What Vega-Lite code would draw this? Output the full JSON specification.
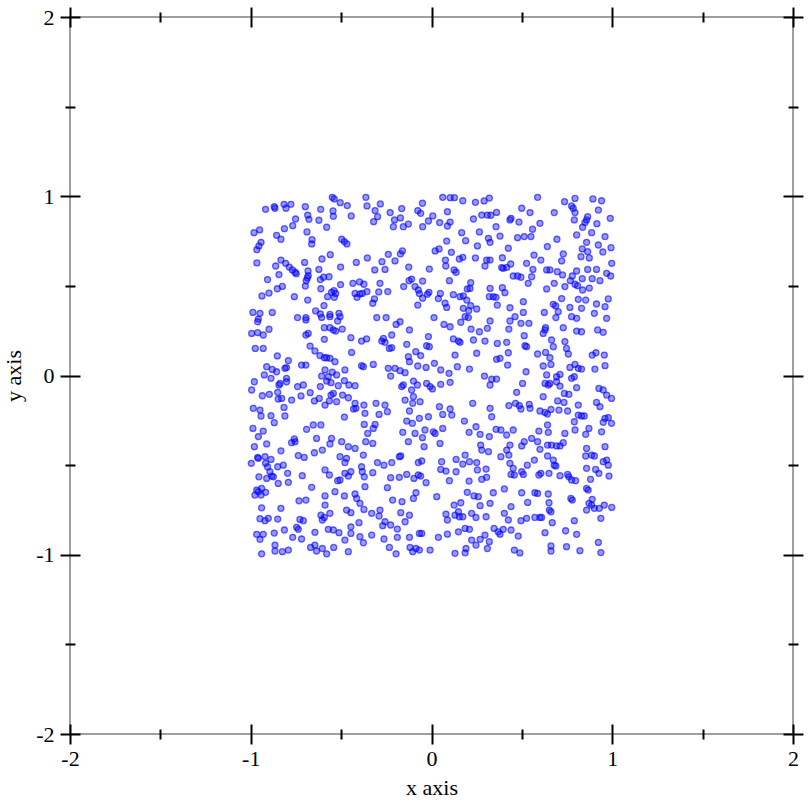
{
"$schema": "https://vega.github.io/schema/vega-lite/v6.json",
"width": 723, "height": 717,
"autosize": {"type": "none"},
"padding": {"left": 70, "top": 17, "right": 19, "bottom": 78},
"background": "white",
"config": {
 "view": {"stroke": "#808080", "strokeWidth": 1.5},
 "axis": {"grid": false, "domain": false, "labelFont": "Liberation Serif", "titleFont": "Liberation Serif", "labelFontSize": 22, "titleFontSize": 22, "titleFontWeight": "normal", "labelColor": "black", "titleColor": "black", "tickColor": "black", "tickWidth": 2, "labelFlush": false, "labelOverlap": false, "labelBound": false}
},
"resolve": {"axis": {"x": "independent", "y": "independent"}},
"layer": [
 {
  "data": {"values": [
{"x":-0.549,"y":0.994},{"x":-0.538,"y":0.985},{"x":-0.363,"y":0.994},{"x":-0.505,"y":0.964},{"x":-0.466,"y":0.948},{"x":-0.357,"y":0.946},{"x":-0.918,"y":0.927},{"x":-0.870,"y":0.942},{"x":-0.866,"y":0.933},{"x":-0.816,"y":0.955},{"x":-0.778,"y":0.955},{"x":-0.805,"y":0.933},{"x":-0.698,"y":0.942},{"x":-0.613,"y":0.927},{"x":-0.545,"y":0.918},{"x":-0.685,"y":0.895},{"x":-0.678,"y":0.871},{"x":-0.752,"y":0.873},{"x":-0.623,"y":0.866},{"x":-0.543,"y":0.888},{"x":-0.444,"y":0.890},{"x":-0.768,"y":0.836},{"x":-0.814,"y":0.819},{"x":-0.580,"y":0.827},{"x":-0.951,"y":0.812},{"x":-0.982,"y":0.797},{"x":-0.689,"y":0.801},{"x":-0.857,"y":0.782},{"x":-0.833,"y":0.760},{"x":-0.661,"y":0.758},{"x":-0.663,"y":0.734},{"x":-0.497,"y":0.760},{"x":-0.482,"y":0.747},{"x":-0.468,"y":0.734},{"x":-0.943,"y":0.743},{"x":-0.955,"y":0.723},{"x":-0.966,"y":0.702},{"x":-0.560,"y":0.674},{"x":-0.606,"y":0.650},{"x":-0.833,"y":0.644},{"x":-0.807,"y":0.626},{"x":-0.787,"y":0.605},{"x":-0.770,"y":0.589},{"x":-0.755,"y":0.576},{"x":-0.748,"y":0.568},{"x":-0.966,"y":0.628},{"x":-0.702,"y":0.631},{"x":-0.416,"y":0.631},{"x":-0.355,"y":0.656},{"x":-0.862,"y":0.611},{"x":-0.503,"y":0.605},{"x":-0.623,"y":0.592},{"x":-0.683,"y":0.583},{"x":-0.682,"y":0.557},{"x":-0.844,"y":0.563},{"x":-0.907,"y":0.535},{"x":-0.687,"y":0.544},{"x":-0.693,"y":0.529},{"x":-0.615,"y":0.535},{"x":-0.597,"y":0.548},{"x":-0.567,"y":0.551},{"x":-0.435,"y":0.514},{"x":-0.398,"y":0.522},{"x":-0.374,"y":0.509},{"x":-0.503,"y":0.507},{"x":-0.825,"y":0.497},{"x":-0.853,"y":0.484},{"x":-0.698,"y":0.499},{"x":-0.612,"y":0.484},{"x":-0.540,"y":0.473},{"x":-0.530,"y":0.458},{"x":-0.553,"y":0.464},{"x":-0.423,"y":0.458},{"x":-0.396,"y":0.455},{"x":-0.383,"y":0.458},{"x":-0.357,"y":0.468},{"x":-0.899,"y":0.460},{"x":-0.938,"y":0.444},{"x":-0.759,"y":0.440},{"x":-0.575,"y":0.440},{"x":-0.538,"y":0.436},{"x":-0.412,"y":0.436},{"x":-0.685,"y":0.421},{"x":-0.595,"y":0.390},{"x":-0.988,"y":0.352},{"x":-0.949,"y":0.347},{"x":-0.881,"y":0.352},{"x":-0.641,"y":0.360},{"x":-0.615,"y":0.343},{"x":-0.562,"y":0.341},{"x":-0.512,"y":0.347},
{"x":0.062,"y":0.994},{"x":0.103,"y":0.992},{"x":0.127,"y":0.992},{"x":0.173,"y":0.975},{"x":0.243,"y":0.966},{"x":0.291,"y":0.974},{"x":0.320,"y":0.990},{"x":-0.283,"y":0.957},{"x":-0.312,"y":0.920},{"x":-0.298,"y":0.886},{"x":-0.320,"y":0.858},{"x":-0.229,"y":0.909},{"x":-0.165,"y":0.931},{"x":-0.050,"y":0.961},{"x":-0.076,"y":0.920},{"x":-0.060,"y":0.905},{"x":0.007,"y":0.890},{"x":-0.017,"y":0.862},{"x":0.045,"y":0.853},{"x":0.088,"y":0.914},{"x":0.103,"y":0.856},{"x":0.088,"y":0.834},{"x":-0.205,"y":0.868},{"x":-0.172,"y":0.879},{"x":-0.211,"y":0.830},{"x":-0.156,"y":0.830},{"x":-0.128,"y":0.845},{"x":-0.049,"y":0.830},{"x":0.232,"y":0.873},{"x":0.278,"y":0.895},{"x":0.309,"y":0.895},{"x":0.328,"y":0.894},{"x":0.167,"y":0.797},{"x":0.265,"y":0.801},{"x":0.315,"y":0.765},{"x":0.324,"y":0.743},{"x":0.084,"y":0.750},{"x":0.189,"y":0.752},{"x":0.254,"y":0.723},{"x":0.020,"y":0.695},{"x":0.042,"y":0.706},{"x":0.110,"y":0.687},{"x":0.154,"y":0.650},{"x":0.173,"y":0.659},{"x":0.077,"y":0.644},{"x":0.079,"y":0.611},{"x":0.125,"y":0.589},{"x":0.136,"y":0.576},{"x":0.243,"y":0.656},{"x":0.305,"y":0.644},{"x":0.324,"y":0.644},{"x":0.296,"y":0.611},{"x":-0.161,"y":0.695},{"x":-0.172,"y":0.678},{"x":-0.239,"y":0.676},{"x":-0.274,"y":0.635},{"x":-0.202,"y":0.639},{"x":-0.126,"y":0.605},{"x":-0.012,"y":0.594},{"x":-0.257,"y":0.592},{"x":-0.314,"y":0.589},{"x":-0.110,"y":0.538},{"x":-0.124,"y":0.529},{"x":-0.049,"y":0.527},{"x":0.099,"y":0.529},{"x":-0.285,"y":0.514},{"x":0.217,"y":0.518},{"x":0.213,"y":0.486},{"x":0.198,"y":0.483},{"x":0.324,"y":0.486},{"x":-0.154,"y":0.496},{"x":-0.091,"y":0.496},{"x":-0.073,"y":0.477},{"x":-0.067,"y":0.457},{"x":-0.014,"y":0.464},{"x":-0.023,"y":0.453},{"x":-0.049,"y":0.431},{"x":0.049,"y":0.458},{"x":0.121,"y":0.451},{"x":0.158,"y":0.440},{"x":0.176,"y":0.444},{"x":0.195,"y":0.421},{"x":-0.292,"y":0.466},{"x":-0.242,"y":0.468},{"x":-0.316,"y":0.427},{"x":-0.325,"y":0.403},{"x":-0.076,"y":0.393},{"x":0.038,"y":0.429},{"x":0.075,"y":0.403},{"x":0.084,"y":0.380},{"x":0.217,"y":0.390},{"x":0.176,"y":0.375},{"x":0.250,"y":0.371},{"x":0.206,"y":0.362},{"x":0.320,"y":0.440},{"x":0.342,"y":0.440},
{"x":0.587,"y":0.994},{"x":0.736,"y":0.970},{"x":0.794,"y":0.988},{"x":0.893,"y":0.985},{"x":0.941,"y":0.975},{"x":0.775,"y":0.946},{"x":0.784,"y":0.933},{"x":0.794,"y":0.909},{"x":0.499,"y":0.933},{"x":0.545,"y":0.909},{"x":0.679,"y":0.909},{"x":0.360,"y":0.910},{"x":0.440,"y":0.877},{"x":0.434,"y":0.868},{"x":0.484,"y":0.856},{"x":0.864,"y":0.886},{"x":0.858,"y":0.868},{"x":0.849,"y":0.853},{"x":0.923,"y":0.923},{"x":0.989,"y":0.877},{"x":0.790,"y":0.868},{"x":0.915,"y":0.847},{"x":0.600,"y":0.849},{"x":0.357,"y":0.830},{"x":0.836,"y":0.827},{"x":0.559,"y":0.816},{"x":0.379,"y":0.778},{"x":0.476,"y":0.769},{"x":0.513,"y":0.775},{"x":0.550,"y":0.775},{"x":0.803,"y":0.784},{"x":0.886,"y":0.797},{"x":0.960,"y":0.775},{"x":0.694,"y":0.760},{"x":0.858,"y":0.743},{"x":0.923,"y":0.728},{"x":0.993,"y":0.713},{"x":0.948,"y":0.689},{"x":0.641,"y":0.719},{"x":0.425,"y":0.710},{"x":0.834,"y":0.706},{"x":0.864,"y":0.691},{"x":0.729,"y":0.678},{"x":0.567,"y":0.672},{"x":0.392,"y":0.657},{"x":0.827,"y":0.663},{"x":0.873,"y":0.656},{"x":0.720,"y":0.639},{"x":0.605,"y":0.644},{"x":0.997,"y":0.626},{"x":0.438,"y":0.622},{"x":0.397,"y":0.598},{"x":0.388,"y":0.602},{"x":0.416,"y":0.603},{"x":0.526,"y":0.626},{"x":0.561,"y":0.592},{"x":0.637,"y":0.589},{"x":0.655,"y":0.589},{"x":0.696,"y":0.579},{"x":0.725,"y":0.561},{"x":0.803,"y":0.583},{"x":0.864,"y":0.592},{"x":0.913,"y":0.592},{"x":0.969,"y":0.570},{"x":0.991,"y":0.555},{"x":0.452,"y":0.555},{"x":0.476,"y":0.555},{"x":0.495,"y":0.548},{"x":0.554,"y":0.551},{"x":0.779,"y":0.555},{"x":0.768,"y":0.529},{"x":0.834,"y":0.540},{"x":0.889,"y":0.540},{"x":0.932,"y":0.529},{"x":0.535,"y":0.514},{"x":0.679,"y":0.514},{"x":0.794,"y":0.509},{"x":0.808,"y":0.501},{"x":0.738,"y":0.496},{"x":0.392,"y":0.490},{"x":0.406,"y":0.462},{"x":0.637,"y":0.483},{"x":0.836,"y":0.477},{"x":0.873,"y":0.488},{"x":0.357,"y":0.436},{"x":0.508,"y":0.412},{"x":0.720,"y":0.429},{"x":0.812,"y":0.425},{"x":0.853,"y":0.421},{"x":0.978,"y":0.427},{"x":0.674,"y":0.397},{"x":0.687,"y":0.388},{"x":0.913,"y":0.399},{"x":0.960,"y":0.384},{"x":0.364,"y":0.393},{"x":0.434,"y":0.378},{"x":0.508,"y":0.352},{"x":0.624,"y":0.352},{"x":0.701,"y":0.356},{"x":0.766,"y":0.380},{"x":0.830,"y":0.375},{"x":0.901,"y":0.347},
{"x":-0.958,"y":0.315},{"x":-0.962,"y":0.300},{"x":-0.741,"y":0.323},{"x":-0.695,"y":0.323},{"x":-0.695,"y":0.310},{"x":-0.608,"y":0.324},{"x":-0.562,"y":0.328},{"x":-0.506,"y":0.328},{"x":-0.519,"y":0.304},{"x":-0.995,"y":0.235},{"x":-0.962,"y":0.239},{"x":-0.931,"y":0.226},{"x":-0.899,"y":0.258},{"x":-0.695,"y":0.226},{"x":-0.682,"y":0.235},{"x":-0.593,"y":0.267},{"x":-0.562,"y":0.267},{"x":-0.543,"y":0.254},{"x":-0.530,"y":0.248},{"x":-0.494,"y":0.259},{"x":-0.593,"y":0.202},{"x":-0.446,"y":0.211},{"x":-0.387,"y":0.192},{"x":-0.359,"y":0.204},{"x":-0.975,"y":0.151},{"x":-0.931,"y":0.151},{"x":-0.672,"y":0.164},{"x":-0.645,"y":0.137},{"x":-0.617,"y":0.111},{"x":-0.593,"y":0.099},{"x":-0.580,"y":0.099},{"x":-0.562,"y":0.096},{"x":-0.534,"y":0.077},{"x":-0.442,"y":0.129},{"x":-0.853,"y":0.109},{"x":-0.792,"y":0.083},{"x":-0.802,"y":0.044},{"x":-0.811,"y":0.040},{"x":-0.912,"y":0.049},{"x":-0.881,"y":0.034},{"x":-0.857,"y":0.021},{"x":-0.925,"y":0.003},{"x":-0.719,"y":0.058},{"x":-0.695,"y":0.058},{"x":-0.589,"y":0.031},{"x":-0.608,"y":-0.003},{"x":-0.571,"y":-0.007},{"x":-0.549,"y":0.018},{"x":-0.525,"y":0.003},{"x":-0.479,"y":0.031},{"x":-0.387,"y":0.055},{"x":-0.377,"y":0.049},{"x":-0.844,"y":-0.053},{"x":-0.838,"y":-0.044},{"x":-0.802,"y":-0.016},{"x":-0.802,"y":-0.035},{"x":-0.741,"y":-0.062},{"x":-0.709,"y":-0.053},{"x":-0.888,"y":-0.016},{"x":-0.980,"y":-0.035},{"x":-0.995,"y":-0.081},{"x":-0.936,"y":-0.113},{"x":-0.897,"y":-0.105},{"x":-0.851,"y":-0.094},{"x":-0.848,"y":-0.131},{"x":-0.829,"y":-0.128},{"x":-0.774,"y":-0.137},{"x":-0.722,"y":-0.114},{"x":-0.671,"y":-0.096},{"x":-0.615,"y":-0.062},{"x":-0.580,"y":-0.031},{"x":-0.556,"y":-0.040},{"x":-0.516,"y":-0.057},{"x":-0.482,"y":-0.029},{"x":-0.457,"y":-0.053},{"x":-0.423,"y":-0.057},{"x":-0.543,"y":-0.100},{"x":-0.556,"y":-0.109},{"x":-0.492,"y":-0.109},{"x":-0.648,"y":-0.142},{"x":-0.621,"y":-0.128},{"x":-0.589,"y":-0.165},{"x":-0.565,"y":-0.142},{"x":-0.525,"y":-0.146},{"x":-0.460,"y":-0.124},{"x":-0.423,"y":-0.155},{"x":-0.418,"y":-0.183},{"x":-0.431,"y":-0.187},{"x":-0.374,"y":-0.165},{"x":-0.986,"y":-0.183},{"x":-0.949,"y":-0.193},{"x":-0.943,"y":-0.226},{"x":-0.888,"y":-0.224},{"x":-0.816,"y":-0.178},{"x":-0.811,"y":-0.226},{"x":-0.870,"y":-0.263},{"x":-0.482,"y":-0.232},{"x":-0.368,"y":-0.211},{"x":-0.654,"y":-0.276},{"x":-0.612,"y":-0.276},{"x":-0.691,"y":-0.300},{"x":-0.988,"y":-0.295},{"x":-0.958,"y":-0.341},{"x":-0.931,"y":-0.310},{"x":-0.759,"y":-0.354},{"x":-0.636,"y":-0.351},{"x":-0.553,"y":-0.351},{"x":-0.372,"y":-0.273},{"x":-0.353,"y":-0.323},
{"x":-0.303,"y":0.323},{"x":-0.251,"y":0.323},{"x":-0.196,"y":0.285},{"x":-0.174,"y":0.300},{"x":0.014,"y":0.323},{"x":0.069,"y":0.285},{"x":0.103,"y":0.272},{"x":0.162,"y":0.297},{"x":0.186,"y":0.328},{"x":0.204,"y":0.323},{"x":0.324,"y":0.304},{"x":0.309,"y":0.263},{"x":0.219,"y":0.259},{"x":0.265,"y":0.244},{"x":-0.122,"y":0.254},{"x":-0.266,"y":0.207},{"x":-0.275,"y":0.192},{"x":-0.257,"y":0.185},{"x":-0.233,"y":0.151},{"x":-0.220,"y":0.155},{"x":-0.220,"y":0.226},{"x":-0.137,"y":0.174},{"x":-0.017,"y":0.217},{"x":-0.027,"y":0.166},{"x":-0.012,"y":0.161},{"x":0.121,"y":0.204},{"x":0.149,"y":0.192},{"x":0.158,"y":0.185},{"x":0.232,"y":0.198},{"x":0.296,"y":0.192},{"x":-0.087,"y":0.133},{"x":-0.060,"y":0.111},{"x":-0.128,"y":0.105},{"x":-0.122,"y":0.077},{"x":0.016,"y":0.068},{"x":0.130,"y":0.114},{"x":0.250,"y":0.124},{"x":-0.322,"y":0.062},{"x":-0.239,"y":0.040},{"x":-0.202,"y":0.040},{"x":-0.174,"y":0.027},{"x":-0.146,"y":0.016},{"x":-0.076,"y":0.053},{"x":-0.030,"y":0.045},{"x":0.051,"y":0.031},{"x":0.097,"y":0.012},{"x":0.143,"y":0.049},{"x":0.210,"y":0.036},{"x":0.293,"y":-0.003},{"x":0.333,"y":-0.021},{"x":0.324,"y":-0.053},{"x":-0.226,"y":-0.003},{"x":-0.156,"y":-0.053},{"x":-0.165,"y":-0.062},{"x":-0.100,"y":-0.031},{"x":-0.078,"y":-0.053},{"x":-0.027,"y":-0.044},{"x":-0.008,"y":-0.062},{"x":0.005,"y":-0.075},{"x":0.051,"y":-0.049},{"x":0.103,"y":-0.038},{"x":-0.110,"y":-0.081},{"x":-0.100,"y":-0.118},{"x":-0.063,"y":-0.146},{"x":-0.104,"y":-0.155},{"x":-0.307,"y":-0.155},{"x":-0.257,"y":-0.165},{"x":-0.244,"y":-0.202},{"x":-0.290,"y":-0.217},{"x":-0.146,"y":-0.137},{"x":-0.122,"y":-0.198},{"x":-0.067,"y":-0.239},{"x":-0.017,"y":-0.230},{"x":0.044,"y":-0.174},{"x":0.062,"y":-0.217},{"x":0.103,"y":-0.187},{"x":0.112,"y":-0.221},{"x":0.228,"y":-0.155},{"x":0.324,"y":-0.183},{"x":0.333,"y":-0.230},{"x":-0.312,"y":-0.273},{"x":-0.322,"y":-0.295},{"x":-0.137,"y":-0.254},{"x":-0.106,"y":-0.267},{"x":-0.036,"y":-0.304},{"x":0.010,"y":-0.314},{"x":0.020,"y":-0.323},{"x":0.062,"y":-0.295},{"x":0.182,"y":-0.254},{"x":0.246,"y":-0.286},{"x":0.208,"y":-0.317},{"x":0.269,"y":-0.328},{"x":0.320,"y":-0.341},{"x":-0.159,"y":-0.317},{"x":-0.091,"y":-0.323},{"x":-0.050,"y":-0.347},
{"x":0.434,"y":0.304},{"x":0.462,"y":0.328},{"x":0.495,"y":0.291},{"x":0.539,"y":0.291},{"x":0.631,"y":0.267},{"x":0.628,"y":0.254},{"x":0.618,"y":0.235},{"x":0.688,"y":0.323},{"x":0.729,"y":0.267},{"x":0.775,"y":0.328},{"x":0.803,"y":0.319},{"x":0.803,"y":0.248},{"x":0.830,"y":0.244},{"x":0.919,"y":0.254},{"x":0.950,"y":0.241},{"x":0.969,"y":0.319},{"x":0.428,"y":0.259},{"x":0.513,"y":0.222},{"x":0.517,"y":0.166},{"x":0.526,"y":0.161},{"x":0.364,"y":0.179},{"x":0.416,"y":0.185},{"x":0.674,"y":0.161},{"x":0.664,"y":0.198},{"x":0.738,"y":0.189},{"x":0.747,"y":0.151},{"x":0.587,"y":0.120},{"x":0.631,"y":0.129},{"x":0.757,"y":0.120},{"x":0.889,"y":0.114},{"x":0.910,"y":0.127},{"x":0.956,"y":0.114},{"x":0.360,"y":0.090},{"x":0.379,"y":0.096},{"x":0.425,"y":0.127},{"x":0.421,"y":0.058},{"x":0.655,"y":0.099},{"x":0.661,"y":0.062},{"x":0.618,"y":0.053},{"x":0.794,"y":0.062},{"x":0.812,"y":0.040},{"x":0.830,"y":0.036},{"x":0.766,"y":0.045},{"x":0.523,"y":0.021},{"x":0.637,"y":0.003},{"x":0.711,"y":0.006},{"x":0.692,"y":-0.007},{"x":0.790,"y":-0.007},{"x":0.775,"y":-0.016},{"x":0.360,"y":-0.020},{"x":0.904,"y":0.036},{"x":0.960,"y":0.055},{"x":0.628,"y":-0.044},{"x":0.646,"y":-0.053},{"x":0.655,"y":-0.044},{"x":0.692,"y":-0.035},{"x":0.711,"y":-0.059},{"x":0.504,"y":-0.044},{"x":0.803,"y":-0.068},{"x":0.926,"y":-0.072},{"x":0.950,"y":-0.081},{"x":0.969,"y":-0.109},{"x":0.996,"y":-0.128},{"x":0.471,"y":-0.094},{"x":0.618,"y":-0.118},{"x":0.735,"y":-0.100},{"x":0.760,"y":-0.105},{"x":0.428,"y":-0.168},{"x":0.465,"y":-0.155},{"x":0.486,"y":-0.168},{"x":0.495,"y":-0.187},{"x":0.541,"y":-0.161},{"x":0.545,"y":-0.183},{"x":0.698,"y":-0.142},{"x":0.733,"y":-0.150},{"x":0.812,"y":-0.165},{"x":0.913,"y":-0.150},{"x":0.932,"y":-0.174},{"x":0.600,"y":-0.198},{"x":0.628,"y":-0.206},{"x":0.641,"y":-0.215},{"x":0.661,"y":-0.189},{"x":0.705,"y":-0.193},{"x":0.753,"y":-0.198},{"x":0.812,"y":-0.221},{"x":0.830,"y":-0.226},{"x":0.845,"y":-0.226},{"x":0.960,"y":-0.239},{"x":0.978,"y":-0.235},{"x":0.950,"y":-0.261},{"x":0.996,"y":-0.267},{"x":0.790,"y":-0.258},{"x":0.642,"y":-0.276},{"x":0.357,"y":-0.300},{"x":0.384,"y":-0.304},{"x":0.416,"y":-0.332},{"x":0.452,"y":-0.304},{"x":0.594,"y":-0.310},{"x":0.646,"y":-0.317},{"x":0.738,"y":-0.323},{"x":0.794,"y":-0.304},{"x":0.871,"y":-0.295},{"x":0.853,"y":-0.328},{"x":0.941,"y":-0.314},{"x":0.554,"y":-0.351},
{"x":-0.980,"y":-0.397},{"x":-0.912,"y":-0.382},{"x":-0.833,"y":-0.420},{"x":-0.774,"y":-0.375},{"x":-0.755,"y":-0.369},{"x":-0.562,"y":-0.382},{"x":-0.497,"y":-0.369},{"x":-0.460,"y":-0.397},{"x":-0.423,"y":-0.407},{"x":-0.364,"y":-0.369},{"x":-0.377,"y":-0.444},{"x":-0.962,"y":-0.457},{"x":-0.958,"y":-0.462},{"x":-0.921,"y":-0.453},{"x":-0.888,"y":-0.468},{"x":-0.918,"y":-0.490},{"x":-0.907,"y":-0.509},{"x":-0.894,"y":-0.537},{"x":-0.884,"y":-0.561},{"x":-0.875,"y":-0.565},{"x":-0.912,"y":-0.574},{"x":-0.851,"y":-0.509},{"x":-0.820,"y":-0.500},{"x":-0.997,"y":-0.490},{"x":-0.737,"y":-0.447},{"x":-0.704,"y":-0.457},{"x":-0.648,"y":-0.431},{"x":-0.604,"y":-0.416},{"x":-0.506,"y":-0.453},{"x":-0.479,"y":-0.486},{"x":-0.470,"y":-0.462},{"x":-0.589,"y":-0.527},{"x":-0.565,"y":-0.555},{"x":-0.519,"y":-0.587},{"x":-0.506,"y":-0.583},{"x":-0.479,"y":-0.546},{"x":-0.446,"y":-0.537},{"x":-0.460,"y":-0.561},{"x":-0.387,"y":-0.509},{"x":-0.383,"y":-0.537},{"x":-0.372,"y":-0.565},{"x":-0.368,"y":-0.620},{"x":-0.955,"y":-0.565},{"x":-0.848,"y":-0.602},{"x":-0.796,"y":-0.546},{"x":-0.792,"y":-0.596},{"x":-0.715,"y":-0.559},{"x":-0.967,"y":-0.639},{"x":-0.940,"y":-0.630},{"x":-0.918,"y":-0.652},{"x":-0.977,"y":-0.667},{"x":-0.943,"y":-0.667},{"x":-0.958,"y":-0.648},{"x":-0.663,"y":-0.624},{"x":-0.733,"y":-0.699},{"x":-0.695,"y":-0.695},{"x":-0.589,"y":-0.672},{"x":-0.534,"y":-0.648},{"x":-0.482,"y":-0.672},{"x":-0.414,"y":-0.686},{"x":-0.396,"y":-0.713},{"x":-0.374,"y":-0.747},{"x":-0.423,"y":-0.661},{"x":-0.940,"y":-0.738},{"x":-0.833,"y":-0.741},{"x":-0.589,"y":-0.723},{"x":-0.470,"y":-0.751},{"x":-0.446,"y":-0.765},{"x":-0.903,"y":-0.797},{"x":-0.949,"y":-0.799},{"x":-0.921,"y":-0.810},{"x":-0.851,"y":-0.801},{"x":-0.728,"y":-0.803},{"x":-0.709,"y":-0.810},{"x":-0.612,"y":-0.779},{"x":-0.593,"y":-0.792},{"x":-0.562,"y":-0.769},{"x":-0.604,"y":-0.806},{"x":-0.401,"y":-0.821},{"x":-0.746,"y":-0.847},{"x":-0.737,"y":-0.858},{"x":-0.814,"y":-0.862},{"x":-0.870,"y":-0.879},{"x":-0.645,"y":-0.875},{"x":-0.571,"y":-0.858},{"x":-0.543,"y":-0.862},{"x":-0.512,"y":-0.877},{"x":-0.446,"y":-0.844},{"x":-0.446,"y":-0.881},{"x":-0.967,"y":-0.886},{"x":-0.931,"y":-0.886},{"x":-0.768,"y":-0.903},{"x":-0.719,"y":-0.912},{"x":-0.479,"y":-0.918},{"x":-0.396,"y":-0.899},{"x":-0.377,"y":-0.933},{"x":-0.949,"y":-0.914},{"x":-0.866,"y":-0.946},{"x":-0.866,"y":-0.979},{"x":-0.825,"y":-0.983},{"x":-0.792,"y":-0.974},{"x":-0.669,"y":-0.959},{"x":-0.645,"y":-0.946},{"x":-0.636,"y":-0.979},{"x":-0.604,"y":-0.965},{"x":-0.541,"y":-0.959},{"x":-0.460,"y":-0.983},{"x":-0.940,"y":-0.995},{"x":-0.580,"y":-0.995},
{"x":-0.325,"y":-0.379},{"x":-0.128,"y":-0.369},{"x":-0.041,"y":-0.397},{"x":0.047,"y":-0.379},{"x":0.272,"y":-0.388},{"x":0.278,"y":-0.416},{"x":0.315,"y":-0.425},{"x":-0.178,"y":-0.453},{"x":-0.170,"y":-0.449},{"x":-0.299,"y":-0.486},{"x":-0.263,"y":-0.500},{"x":-0.220,"y":-0.486},{"x":-0.073,"y":-0.486},{"x":-0.054,"y":-0.477},{"x":0.056,"y":-0.481},{"x":0.051,"y":-0.524},{"x":0.080,"y":-0.533},{"x":0.136,"y":-0.468},{"x":0.173,"y":-0.494},{"x":0.210,"y":-0.481},{"x":0.186,"y":-0.444},{"x":0.250,"y":-0.486},{"x":0.254,"y":-0.527},{"x":0.302,"y":-0.522},{"x":-0.325,"y":-0.542},{"x":-0.226,"y":-0.570},{"x":-0.178,"y":-0.568},{"x":-0.137,"y":-0.552},{"x":-0.097,"y":-0.574},{"x":-0.073,"y":-0.555},{"x":-0.060,"y":-0.561},{"x":-0.030,"y":-0.598},{"x":0.099,"y":-0.587},{"x":0.136,"y":-0.537},{"x":0.208,"y":-0.589},{"x":0.278,"y":-0.579},{"x":0.305,"y":-0.568},{"x":-0.244,"y":-0.626},{"x":-0.086,"y":-0.654},{"x":-0.100,"y":-0.686},{"x":-0.215,"y":-0.695},{"x":-0.163,"y":-0.704},{"x":0.029,"y":-0.676},{"x":0.198,"y":-0.652},{"x":0.235,"y":-0.672},{"x":0.259,"y":-0.676},{"x":0.342,"y":-0.654},{"x":0.324,"y":-0.713},{"x":0.125,"y":-0.723},{"x":0.162,"y":-0.710},{"x":0.269,"y":-0.726},{"x":-0.331,"y":-0.769},{"x":-0.285,"y":-0.751},{"x":-0.290,"y":-0.784},{"x":-0.170,"y":-0.765},{"x":-0.122,"y":-0.779},{"x":-0.146,"y":-0.816},{"x":-0.257,"y":-0.816},{"x":-0.270,"y":-0.838},{"x":-0.226,"y":-0.834},{"x":-0.189,"y":-0.857},{"x":0.080,"y":-0.773},{"x":0.088,"y":-0.806},{"x":0.130,"y":-0.779},{"x":0.149,"y":-0.760},{"x":0.154,"y":-0.788},{"x":0.173,"y":-0.788},{"x":0.222,"y":-0.769},{"x":0.246,"y":-0.792},{"x":0.302,"y":-0.788},{"x":0.149,"y":-0.872},{"x":0.186,"y":-0.853},{"x":0.210,"y":-0.858},{"x":0.346,"y":-0.853},{"x":-0.331,"y":-0.890},{"x":-0.263,"y":-0.912},{"x":-0.189,"y":-0.903},{"x":-0.122,"y":-0.903},{"x":-0.067,"y":-0.881},{"x":-0.054,"y":-0.881},{"x":0.038,"y":-0.903},{"x":0.088,"y":-0.885},{"x":0.222,"y":-0.918},{"x":0.269,"y":-0.914},{"x":0.296,"y":-0.890},{"x":0.320,"y":-0.927},{"x":0.246,"y":-0.946},{"x":0.309,"y":-0.965},{"x":-0.233,"y":-0.959},{"x":-0.196,"y":-0.995},{"x":-0.119,"y":-0.959},{"x":-0.104,"y":-0.983},{"x":-0.086,"y":-0.965},{"x":-0.067,"y":-0.974},{"x":-0.008,"y":-0.974},{"x":0.130,"y":-0.992},{"x":0.191,"y":-0.965},{"x":0.186,"y":-0.989},
{"x":0.434,"y":-0.388},{"x":0.416,"y":-0.416},{"x":0.428,"y":-0.444},{"x":0.384,"y":-0.453},{"x":0.499,"y":-0.393},{"x":0.513,"y":-0.369},{"x":0.587,"y":-0.369},{"x":0.600,"y":-0.412},{"x":0.642,"y":-0.388},{"x":0.664,"y":-0.388},{"x":0.692,"y":-0.393},{"x":0.729,"y":-0.375},{"x":0.711,"y":-0.393},{"x":0.858,"y":-0.407},{"x":0.853,"y":-0.449},{"x":0.886,"y":-0.444},{"x":0.901,"y":-0.449},{"x":0.960,"y":-0.397},{"x":0.969,"y":-0.472},{"x":0.978,"y":-0.500},{"x":0.950,"y":-0.481},{"x":0.434,"y":-0.490},{"x":0.452,"y":-0.518},{"x":0.440,"y":-0.552},{"x":0.458,"y":-0.555},{"x":0.499,"y":-0.537},{"x":0.508,"y":-0.552},{"x":0.530,"y":-0.500},{"x":0.569,"y":-0.472},{"x":0.642,"y":-0.449},{"x":0.674,"y":-0.472},{"x":0.679,"y":-0.500},{"x":0.688,"y":-0.505},{"x":0.605,"y":-0.546},{"x":0.594,"y":-0.555},{"x":0.650,"y":-0.546},{"x":0.711,"y":-0.559},{"x":0.753,"y":-0.552},{"x":0.760,"y":-0.565},{"x":0.775,"y":-0.583},{"x":0.797,"y":-0.587},{"x":0.858,"y":-0.518},{"x":0.908,"y":-0.524},{"x":0.926,"y":-0.546},{"x":0.982,"y":-0.561},{"x":0.880,"y":-0.579},{"x":0.403,"y":-0.633},{"x":0.499,"y":-0.654},{"x":0.572,"y":-0.654},{"x":0.587,"y":-0.658},{"x":0.646,"y":-0.661},{"x":0.532,"y":-0.708},{"x":0.650,"y":-0.710},{"x":0.771,"y":-0.686},{"x":0.779,"y":-0.695},{"x":0.858,"y":-0.630},{"x":0.867,"y":-0.639},{"x":0.889,"y":-0.691},{"x":0.871,"y":-0.713},{"x":0.886,"y":-0.723},{"x":0.901,"y":-0.741},{"x":0.928,"y":-0.741},{"x":0.956,"y":-0.723},{"x":0.997,"y":-0.736},{"x":0.858,"y":-0.751},{"x":0.652,"y":-0.751},{"x":0.661,"y":-0.760},{"x":0.440,"y":-0.732},{"x":0.403,"y":-0.769},{"x":0.425,"y":-0.806},{"x":0.495,"y":-0.810},{"x":0.526,"y":-0.797},{"x":0.572,"y":-0.792},{"x":0.600,"y":-0.792},{"x":0.609,"y":-0.792},{"x":0.668,"y":-0.821},{"x":0.790,"y":-0.810},{"x":0.937,"y":-0.797},{"x":0.369,"y":-0.872},{"x":0.379,"y":-0.885},{"x":0.397,"y":-0.858},{"x":0.440,"y":-0.862},{"x":0.480,"y":-0.896},{"x":0.628,"y":-0.877},{"x":0.742,"y":-0.866},{"x":0.803,"y":-0.886},{"x":0.923,"y":-0.931},{"x":0.458,"y":-0.974},{"x":0.489,"y":-0.990},{"x":0.661,"y":-0.951},{"x":0.661,"y":-0.979},{"x":0.747,"y":-0.955},{"x":0.821,"y":-0.977},{"x":0.937,"y":-0.988}
  ]},
  "mark": {"type": "circle", "size": 36, "fill": "blue", "fillOpacity": 0.4, "stroke": "blue", "strokeOpacity": 0.6, "strokeWidth": 1.3},
  "encoding": {
   "x": {"field": "x", "type": "quantitative", "scale": {"domain": [-2, 2], "nice": false, "zero": false},
         "axis": {"orient": "bottom", "title": "x axis", "values": [-2, -1, 0, 1, 2], "offset": -10, "tickSize": 20, "labelPadding": 4, "titlePadding": 8, "labelExpr": "'' + datum.value"}},
   "y": {"field": "y", "type": "quantitative", "scale": {"domain": [-2, 2], "nice": false, "zero": false},
         "axis": {"orient": "left", "title": "y axis", "values": [-2, -1, 0, 1, 2], "offset": -10, "tickSize": 20, "labelPadding": 6, "titlePadding": 10, "labelExpr": "'' + datum.value"}}
  }
 },
 {
  "data": {"values": [{"x": 0, "y": 0}]},
  "mark": {"type": "circle", "opacity": 0},
  "encoding": {
   "x": {"field": "x", "type": "quantitative", "axis": {"orient": "top", "title": null, "labels": false, "values": [-2, -1, 0, 1, 2], "offset": -10, "tickSize": 20}},
   "y": {"field": "y", "type": "quantitative", "axis": {"orient": "right", "title": null, "labels": false, "values": [-2, -1, 0, 1, 2], "offset": -10, "tickSize": 20}}
  }
 },
 {
  "data": {"values": [{"x": 0, "y": 0}]},
  "mark": {"type": "circle", "opacity": 0},
  "encoding": {
   "x": {"field": "x", "type": "quantitative", "axis": {"orient": "bottom", "title": null, "labels": false, "values": [-1.5, -0.5, 0.5, 1.5], "offset": -5, "tickSize": 10}},
   "y": {"field": "y", "type": "quantitative", "axis": {"orient": "left", "title": null, "labels": false, "values": [-1.5, -0.5, 0.5, 1.5], "offset": -5, "tickSize": 10}}
  }
 },
 {
  "data": {"values": [{"x": 0, "y": 0}]},
  "mark": {"type": "circle", "opacity": 0},
  "encoding": {
   "x": {"field": "x", "type": "quantitative", "axis": {"orient": "top", "title": null, "labels": false, "values": [-1.5, -0.5, 0.5, 1.5], "offset": -5, "tickSize": 10}},
   "y": {"field": "y", "type": "quantitative", "axis": {"orient": "right", "title": null, "labels": false, "values": [-1.5, -0.5, 0.5, 1.5], "offset": -5, "tickSize": 10}}
  }
 }
]
}
